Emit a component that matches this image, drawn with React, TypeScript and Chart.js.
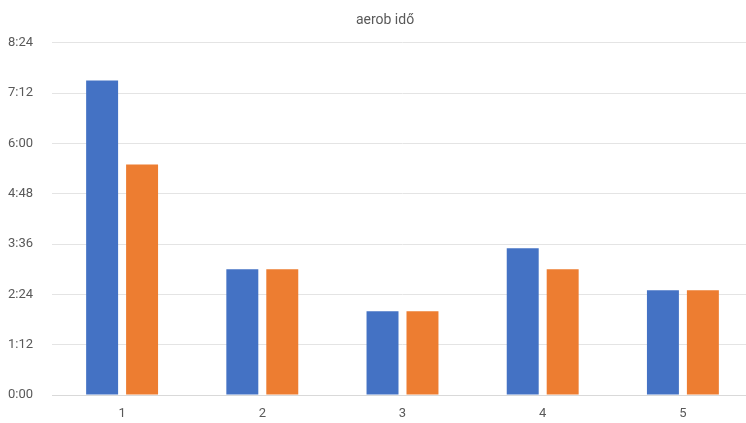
import React, { useEffect, useRef } from "react";
import { Chart, registerables } from "chart.js";

Chart.register(...registerables);

// Durations in minutes, shown as h:mm
const categories = ["1", "2", "3", "4", "5"];
const seriesBlue = [450, 180, 120, 210, 150];
const seriesOrange = [330, 180, 120, 180, 150];
const yMax = 504; // 8:24
const yStep = 72; // 1:12

const fmt = (v: number) => {
  const h = Math.floor(v / 60);
  const m = Math.round(v % 60);
  return `${h}:${String(m).padStart(2, "0")}`;
};

const FONT = "'Roboto', 'Liberation Sans', sans-serif";

export default function App() {
  const ref = useRef<HTMLCanvasElement | null>(null);

  useEffect(() => {
    if (!ref.current) return;
    const chart = new Chart(ref.current, {
      type: "bar",
      data: {
        labels: categories,
        datasets: [
          {
            label: "1",
            data: seriesBlue,
            backgroundColor: "#4472C4",
            barPercentage: 0.8,
            categoryPercentage: 0.57,
          },
          {
            label: "2",
            data: seriesOrange,
            backgroundColor: "#ED7D31",
            barPercentage: 0.8,
            categoryPercentage: 0.57,
          },
        ],
      },
      options: {
        animation: false,
        responsive: true,
        maintainAspectRatio: false,
        layout: { padding: { left: 17, right: 17, top: 0, bottom: 3 } },
        plugins: {
          legend: { display: false },
          tooltip: { enabled: false },
          title: {
            display: true,
            text: "aerob idő",
            color: "#595959",
            font: { family: FONT, size: 14, weight: "normal" },
            padding: { top: 12, bottom: 14 },
          },
        },
        scales: {
          x: {
            grid: { display: false, drawTicks: false },
            border: { display: true, color: "#d9d9d9", width: 1 },
            afterFit: (scale: any) => {
              scale.height = 25;
            },
            ticks: {
              color: "#595959",
              font: { family: FONT, size: 13 },
              padding: 11,
            },
          },
          y: {
            min: 0,
            max: yMax,
            border: { display: false },
            grid: { color: "#e4e4e4", drawTicks: false },
            afterFit: (scale: any) => {
              scale.width = 35;
            },
            ticks: {
              stepSize: yStep,
              color: "#595959",
              font: { family: FONT, size: 13 },
              // labels sit in the left margin, left-aligned at x = 8
              mirror: true,
              crossAlign: "near",
              padding: -44,
              callback: (v: any) => fmt(Number(v)),
            },
          },
        },
      },
    });
    return () => chart.destroy();
  }, []);

  return (
    <div
      style={{
        position: "fixed",
        left: 0,
        top: 0,
        width: 746,
        height: 423,
        overflow: "hidden",
        background: "#fff",
      }}
    >
      <div style={{ position: "relative", width: 770, height: 423 }}>
        <canvas ref={ref} />
      </div>
    </div>
  );
}
